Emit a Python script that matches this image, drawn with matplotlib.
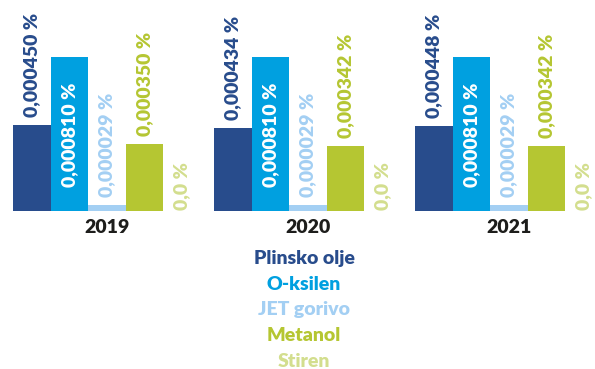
import matplotlib.pyplot as plt

plt.rcParams['font.family'] = ['Lato', 'DejaVu Sans']
plt.rcParams['font.weight'] = 800

# Data
years = ['2019', '2020', '2021']
series = ['Plinsko olje', 'O-ksilen', 'JET gorivo', 'Metanol', 'Stiren']
plinsko = [0.000450, 0.000434, 0.000448]
oksilen = [0.000810, 0.000810, 0.000810]
jet = [0.000029, 0.000029, 0.000029]
metanol = [0.000350, 0.000342, 0.000342]
stiren = [0.0, 0.0, 0.0]
labels = [
    ['0,000450 %', '0,000810 %', '0,000029 %', '0,000350 %', '0,0 %'],
    ['0,000434 %', '0,000810 %', '0,000029 %', '0,000342 %', '0,0 %'],
    ['0,000448 %', '0,000810 %', '0,000029 %', '0,000342 %', '0,0 %'],
]
colors = ['#284c8c', '#00a0e0', '#a3cff3', '#b5c632', '#d3de8e']

W, H = 595, 369
fig = plt.figure(figsize=(W / 100, H / 100), dpi=100)
ax = fig.add_axes([0, 0, 1, 1])
ax.axis('off')

# pixel geometry
bar_px = 37.5
group_px = 201
base_px = 211          # baseline from top
ppu = 154 / 0.00081    # pixels per data unit

ax.set_ylim(-(H - base_px) / ppu, base_px / ppu)
x0 = -(13 + bar_px / 2) / bar_px
ax.set_xlim(x0, x0 + W / bar_px)
gstep = group_px / bar_px

all_vals = [plinsko, oksilen, jet, metanol, stiren]
for g in range(len(years)):
    for i, vals in enumerate(all_vals):
        x = g * gstep + i
        v = vals[g]
        if v > 0:
            ax.bar(x, v, width=1.0, color=colors[i], linewidth=0)
        if i == 1:
            ax.annotate(labels[g][i], (x, 0), xytext=(0, 24 * 0.72),
                        textcoords='offset points', rotation=90,
                        ha='center', va='bottom', color='white', fontsize=14,
                        fontweight=800)
        else:
            off = 8 if v > 0 else 1
            ax.annotate(labels[g][i], (x, v), xytext=(0, off * 0.72),
                        textcoords='offset points', rotation=90,
                        ha='center', va='bottom', color=colors[i], fontsize=14,
                        fontweight=800)
    ax.annotate(years[g], (g * gstep + 2, 0), xytext=(0, -22 * 0.72),
                textcoords='offset points', ha='center', va='baseline',
                color='#1d1d1b', fontsize=14, fontweight=800)

# legend as stacked text
for k, name in enumerate(series):
    yb = 264 + k * 25.7
    fig.text(304 / W, 1 - yb / H, name, ha='center', va='baseline',
             color=colors[k], fontsize=14, fontweight=800)

fig.savefig('out.png', dpi=100)
